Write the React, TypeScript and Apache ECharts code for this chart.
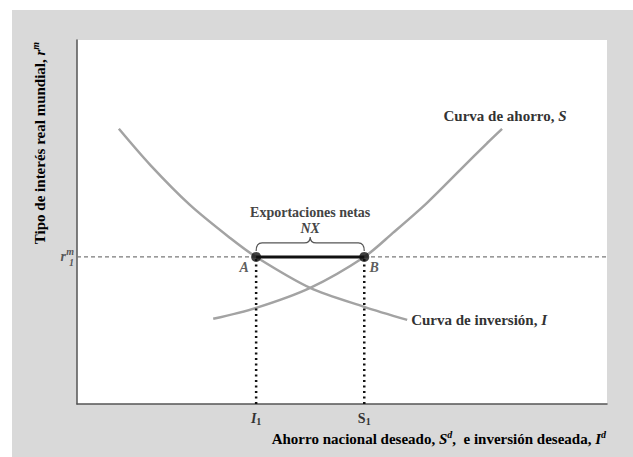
import React, { useEffect, useRef } from "react";
import * as echarts from "echarts";

// Curve points (x = desired saving/investment, y = world real interest rate)
const savingsCurve: number[][] = [
  [25.7, 23.4], [33.8, 26.4], [44.0, 31.9], [54.2, 40.4], [59.6, 47.0],
  [66.0, 55.2], [72.3, 64.3], [77.4, 71.7], [80.2, 75.6],
];
const investmentCurve: number[][] = [
  [7.9, 75.6], [13.8, 65.7], [21.3, 54.7], [28.9, 45.6], [33.8, 40.4],
  [44.0, 31.9], [54.2, 26.7], [62.3, 23.1],
];
const pointA = [33.8, 40.4];
const pointB = [54.2, 40.4];
const pointNames = ["A", "B"];
const xTickLabels = ["{i|I}{sub|1}", "{n|S}{sub|1}"];
const savingsLabel = "{t|Curva de ahorro, }{it|S}";
const investmentLabel = "{t|Curva de inversión, }{it|I}";
const nxTitle = "Exportaciones netas";
const nxSymbol = "NX";
const yTitle = "{a|Tipo de interés real mundial, }{i|r}{sup|m}";
const xTitle = "{a|Ahorro nacional deseado, }{i|S}{sup|d}{a|,  e inversión deseada, }{i|I}{sup|d}";

const FONT = '"Liberation Serif", "Times New Roman", serif';
const TXT = "#333";

const richBase = {
  a: { fontFamily: FONT, fontWeight: "bold", fontSize: 15, color: TXT, lineHeight: 20 },
  i: { fontFamily: FONT, fontWeight: "bold", fontStyle: "italic", fontSize: 15, color: TXT, lineHeight: 20 },
  sup: { fontFamily: FONT, fontWeight: "bold", fontStyle: "italic", fontSize: 10, color: TXT, lineHeight: 10, verticalAlign: "top" },
};

function buildOption(): any {
  const yA = pointA[1];
  const curveRich = {
    t: { fontFamily: FONT, fontWeight: "bold", fontSize: 15, color: TXT },
    it: { fontFamily: FONT, fontWeight: "bold", fontStyle: "italic", fontSize: 15, color: TXT },
  };
  return {
    animation: false,
    backgroundColor: "#ffffff",
    graphic: [
      { type: "rect", z: -10, silent: true, shape: { x: 12, y: 10, width: 621, height: 447 }, style: { fill: "#d9d9d9" } },
      {
        type: "text", x: 40, y: 143, rotation: Math.PI / 2, silent: true,
        style: { text: yTitle, rich: richBase, align: "center", verticalAlign: "middle" },
      },
      {
        type: "text", x: 606, y: 439, silent: true,
        style: { text: xTitle, rich: richBase, align: "right", verticalAlign: "middle" },
      },
    ],
    grid: { left: 77, top: 40, right: 26, bottom: 53, show: true, backgroundColor: "#ffffff", borderWidth: 0 },
    xAxis: {
      type: "value", min: 0, max: 100,
      axisLine: { show: true, lineStyle: { color: "#555", width: 1.5 } },
      axisTick: { show: false },
      splitLine: { show: false },
      axisLabel: {
        show: true,
        customValues: [pointA[0], pointB[0]],
        margin: 6,
        formatter: (v: number) => (Math.abs(v - pointA[0]) < 1e-6 ? xTickLabels[0] : xTickLabels[1]),
        rich: {
          i: { fontFamily: FONT, fontWeight: "bold", fontStyle: "italic", fontSize: 14, color: TXT, lineHeight: 16 },
          n: { fontFamily: FONT, fontWeight: "bold", fontSize: 14, color: TXT, lineHeight: 16 },
          sub: { fontFamily: FONT, fontWeight: "bold", fontSize: 10, color: TXT, lineHeight: 9, verticalAlign: "bottom" },
        },
      },
    },
    yAxis: {
      type: "value", min: 0, max: 100,
      axisLine: { show: true, lineStyle: { color: "#555", width: 1.5 } },
      axisTick: { show: false },
      splitLine: { show: false },
      axisLabel: { show: false },
    },
    series: [
      {
        type: "line", silent: true, symbol: "none",
        data: [[0, yA], [100, yA]],
        lineStyle: { color: "#7a7a7a", width: 1.2, type: [4, 3] },
        z: 1,
      },
      {
        type: "line", silent: true, symbol: "none", smooth: 0.3,
        data: savingsCurve,
        lineStyle: { color: "#a3a3a3", width: 2.5 },
        endLabel: { show: true, formatter: savingsLabel, distance: 0, align: "center", offset: [3, -13], rich: curveRich },
        z: 2,
      },
      {
        type: "line", silent: true, symbol: "none", smooth: 0.3,
        data: investmentCurve,
        lineStyle: { color: "#a3a3a3", width: 2.5 },
        endLabel: { show: true, formatter: investmentLabel, distance: 4, offset: [0, 0], rich: curveRich },
        z: 2,
      },
      {
        type: "line", silent: true, symbol: "none",
        data: [[pointA[0], 0], [pointA[0], yA]],
        lineStyle: { color: "#111", width: 2.5, type: [2, 3.5] },
        z: 3,
      },
      {
        type: "line", silent: true, symbol: "none",
        data: [[pointB[0], 0], [pointB[0], yA]],
        lineStyle: { color: "#111", width: 2.5, type: [2, 3.5] },
        z: 3,
      },
      {
        type: "line", silent: true, symbol: "none",
        data: [pointA, pointB],
        lineStyle: { color: "#111", width: 3 },
        z: 4,
      },
      {
        type: "scatter", silent: true, symbol: "circle", symbolSize: 10, clip: false,
        itemStyle: { color: "#111" },
        data: [
          { value: pointA, name: pointNames[0], label: { position: [-7, 16] } },
          { value: pointB, name: pointNames[1], label: { position: [15, 16] } },
        ],
        label: {
          show: true, formatter: "{b}", align: "center", verticalAlign: "middle",
          fontFamily: FONT, fontWeight: "bold", fontStyle: "italic", fontSize: 14, color: TXT,
        },
        z: 5,
      },
      {
        type: "scatter", silent: true, symbolSize: 0, clip: false,
        data: [
          { value: [0, yA], label: { show: true, position: "left", distance: 11, formatter: "{r|r}" } },
          { value: [0, yA], label: { show: true, position: "left", distance: 3, formatter: "{s|m}\n{s|1}" } },
        ],
        label: {
          rich: {
            r: { fontFamily: FONT, fontWeight: "bold", fontStyle: "italic", fontSize: 14, color: TXT, lineHeight: 14 },
            s: { fontFamily: FONT, fontWeight: "bold", fontStyle: "italic", fontSize: 10, color: TXT, lineHeight: 11 },
          },
        },
        z: 5,
      },
      {
        type: "custom", silent: true, clip: false,
        data: [[pointA[0], pointA[1], pointB[0], pointB[1]]],
        encode: { x: [0, 2], y: [1, 3] },
        renderItem: (_params: any, api: any) => {
          const a = api.coord([api.value(0), api.value(1)]);
          const b = api.coord([api.value(2), api.value(3)]);
          const xm = (a[0] + b[0]) / 2;
          const y0 = a[1];
          const yEnd = y0 - 6, yFlat = y0 - 14, yTip = y0 - 20;
          const r = 6;
          const d =
            `M${a[0]} ${yEnd} Q${a[0]} ${yFlat} ${a[0] + r} ${yFlat} L${xm - r} ${yFlat} ` +
            `Q${xm} ${yFlat} ${xm} ${yTip} Q${xm} ${yFlat} ${xm + r} ${yFlat} ` +
            `L${b[0] - r} ${yFlat} Q${b[0]} ${yFlat} ${b[0]} ${yEnd}`;
          return {
            type: "group",
            children: [
              { type: "path", shape: { pathData: d }, style: { stroke: "#555", fill: "none", lineWidth: 1.2 } },
              {
                type: "text",
                style: {
                  text: nxTitle, x: xm, y: yTip - 24, align: "center", verticalAlign: "middle",
                  font: `bold 14px ${FONT}`, fill: "#444",
                },
              },
              {
                type: "text",
                style: {
                  text: nxSymbol, x: xm, y: yTip - 8, align: "center", verticalAlign: "middle",
                  font: `italic bold 14px ${FONT}`, fill: "#444",
                },
              },
            ],
          };
        },
        z: 5,
      },
    ],
  };
}

export default function App() {
  const ref = useRef<HTMLDivElement>(null);
  useEffect(() => {
    if (!ref.current) return;
    const chart = echarts.init(ref.current, null, { renderer: "svg" });
    chart.setOption(buildOption());
    return () => chart.dispose();
  }, []);
  return <div ref={ref} style={{ position: "absolute", left: 0, top: 0, width: 633, height: 457 }} />;
}
